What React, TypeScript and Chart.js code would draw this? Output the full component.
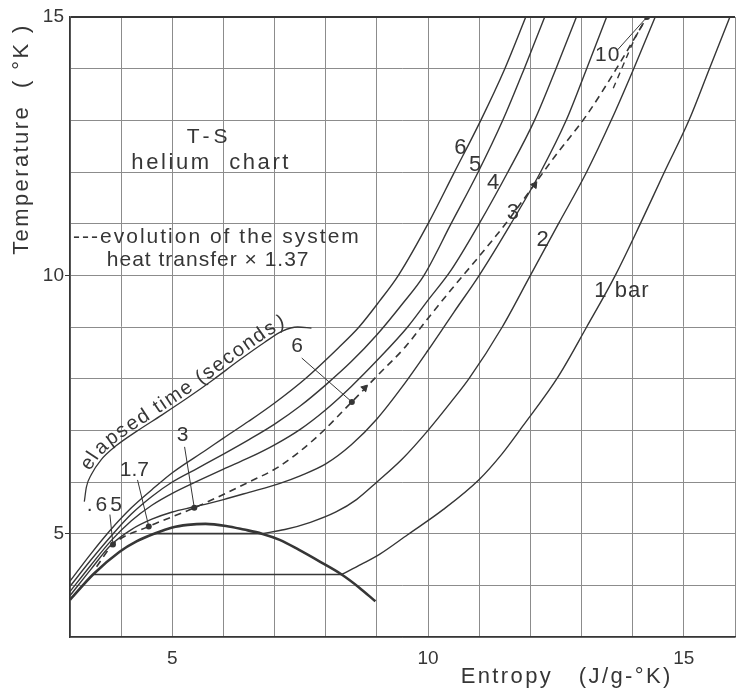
import { useEffect, useRef } from "react";
import { Chart, registerables } from "chart.js";

Chart.register(...registerables);

// ---------------- data (entropy S in J/g-K, temperature T in K) ----------------
const entropyTickLabels = [5, 10, 15];
const temperatureTickLabels = [5, 10, 15];

// saturation dome
const domeS = [3.0, 3.45, 3.97, 4.3, 4.65, 5.0, 5.3, 5.65, 6.05, 6.4, 6.75, 7.1, 7.47, 7.9, 8.31, 8.65, 8.97];
const domeT = [3.72, 4.21, 4.65, 4.85, 5.0, 5.12, 5.17, 5.19, 5.15, 5.08, 5.0, 4.88, 4.69, 4.45, 4.21, 3.96, 3.69];

// 1 bar: boiling plateau + vapour branch
const boil1S = [3.45, 8.31];
const boil1T = [4.21, 4.21];
const vap1S = [8.31, 8.7, 9.05, 9.6, 10.3, 11.0, 11.45, 11.85, 12.55, 13.1, 13.66, 14.15, 14.62, 15.1, 15.5, 15.9];
const vap1T = [4.21, 4.41, 4.6, 4.98, 5.47, 6.05, 6.55, 7.08, 8.05, 9.0, 10.0, 11.0, 12.0, 13.0, 14.0, 15.0];

// 2 bar: boiling plateau + vapour branch
const boil2S = [4.65, 6.75];
const boil2T = [5.0, 5.0];
const vap2S = [6.75, 7.2, 7.7, 8.2, 8.6, 9.0, 9.5, 10.0, 10.45, 10.8, 11.45, 12.0, 12.55, 13.1, 13.58, 14.02, 14.44];
const vap2T = [5.0, 5.08, 5.22, 5.42, 5.66, 6.0, 6.45, 7.0, 7.55, 8.0, 9.0, 10.0, 11.0, 12.0, 13.0, 14.0, 15.0];

// supercritical isobars
const bar3S = [3.0, 3.4, 3.8, 4.2, 4.6, 5.0, 5.43, 6.0, 6.5, 7.09, 7.5, 8.0, 8.5, 9.0, 9.5, 10.0, 10.5, 11.0, 11.62, 12.2, 12.7, 13.1, 13.49];
const bar3T = [3.8, 4.3, 4.78, 5.08, 5.28, 5.42, 5.52, 5.66, 5.8, 5.97, 6.12, 6.35, 6.72, 7.22, 7.85, 8.55, 9.28, 10.0, 11.0, 12.0, 13.0, 14.0, 15.0];

const bar4S = [3.0, 3.4, 3.8, 4.2, 4.6, 5.0, 5.5, 6.0, 6.5, 7.0, 7.5, 8.0, 8.5, 9.0, 9.6, 10.0, 10.45, 11.0, 11.56, 12.08, 12.5, 12.9];
const bar4T = [3.88, 4.38, 4.86, 5.25, 5.55, 5.78, 6.02, 6.25, 6.47, 6.72, 7.02, 7.4, 7.85, 8.35, 9.0, 9.52, 10.1, 11.0, 12.0, 13.0, 14.0, 15.0];

const bar5S = [3.0, 3.4, 3.8, 4.2, 4.6, 5.0, 5.5, 6.0, 6.5, 7.0, 7.5, 8.0, 8.5, 9.0, 9.5, 9.92, 10.45, 10.98, 11.46, 11.88, 12.28];
const bar5T = [3.98, 4.48, 4.95, 5.38, 5.72, 6.0, 6.27, 6.54, 6.82, 7.12, 7.47, 7.88, 8.33, 8.85, 9.45, 10.0, 11.0, 12.0, 13.0, 14.0, 15.0];

const bar6S = [3.0, 3.4, 3.8, 4.2, 4.6, 5.0, 5.66, 6.0, 6.5, 7.0, 7.6, 8.25, 8.65, 9.05, 9.42, 10.0, 10.49, 11.03, 11.5, 11.91];
const bar6T = [4.08, 4.6, 5.08, 5.5, 5.85, 6.18, 6.62, 6.85, 7.18, 7.53, 8.0, 8.6, 9.0, 9.5, 10.0, 11.0, 11.95, 13.0, 14.0, 15.0];

// evolution of the system (dashed)
const evolS = [3.52, 3.84, 4.54, 5.43, 6.5, 7.09, 7.8, 8.51, 9.03, 9.56, 10.0, 10.45, 11.0, 11.5, 12.0, 12.47, 13.1, 13.7, 14.28];
const evolT = [4.36, 4.79, 5.14, 5.5, 6.0, 6.3, 6.85, 7.55, 8.08, 8.62, 9.17, 9.72, 10.37, 10.98, 11.65, 12.29, 13.1, 14.03, 15.0];
const evol2S = [13.62, 13.85, 14.05, 14.28];
const evol2T = [13.62, 14.15, 14.6, 15.0];

// arrowheads on the evolution line
const arrowS = [8.76, 12.08];
const arrowT = [7.82, 11.75];

// elapsed time marks
const timeLabels = [".65", "1.7", "3", "6", "10"];
const timeS = [3.84, 4.54, 5.43, 8.51, 14.28];
const timeT = [4.79, 5.14, 5.5, 7.55, 15.0];

// elapsed-time guide curve
const arcS = [3.28, 3.32, 3.42, 3.6, 3.9, 4.3, 4.8, 5.3, 5.8, 6.3, 6.8, 7.15, 7.45, 7.72];
const arcT = [5.62, 5.9, 6.15, 6.42, 6.7, 6.98, 7.3, 7.63, 7.98, 8.35, 8.7, 8.92, 9.0, 8.98];

// isobar labels
const pressureLabels = ["6", "5", "4", "3", "2", "1 bar"];

// ---------------- styling / placement ----------------
const INK = "#363636";
const GRID = "#8c8c8c";
const FONT = '"Liberation Sans", Arial, sans-serif';

const pressureLabelAt = [
  [10.63, 12.47], [10.92, 12.14], [11.27, 11.79], [11.66, 11.21], [12.24, 10.69], [13.25, 9.7],
];
const timeLabelAt = [
  [3.7, 5.56, 3], [4.26, 6.22, 0], [5.2, 6.91, 0], [7.44, 8.62, 0], [13.51, 14.26, 1],
];
// pointer lines: from label to mark
const pointerFrom = [
  [3.78, 5.37], [4.32, 6.04], [5.24, 6.68], [7.53, 8.4], [13.7, 14.36],
];

const pts = (xs: number[], ys: number[]) => xs.map((x, i) => ({ x, y: ys[i] }));

const annotationPlugin = {
  id: "heliumText",
  afterDatasetsDraw(chart: any) {
    const { ctx, chartArea } = chart;
    const xs = chart.scales.x;
    const ys = chart.scales.y;
    const px = (v: number) => xs.getPixelForValue(v);
    const py = (v: number) => ys.getPixelForValue(v);
    ctx.save();
    ctx.fillStyle = INK;
    ctx.textBaseline = "middle";

    const put = (text: string, x: number, y: number, size: number, ls: number, align: CanvasTextAlign = "center") => {
      ctx.font = `${size}px ${FONT}`;
      (ctx as any).letterSpacing = `${ls}px`;
      ctx.textAlign = align;
      ctx.fillText(text, x, y);
    };

    pressureLabels.forEach((t, i) => {
      const [s, T] = pressureLabelAt[i];
      put(t, px(s), py(T), 22, i === 5 ? 1 : 0, i === 5 ? "left" : "center");
    });
    timeLabels.forEach((t, i) => {
      const [s, T, ls] = timeLabelAt[i];
      put(t, px(s), py(T), 21, ls);
    });

    put("T-S", px(5.72), py(12.68), 21, 4);
    put("helium  chart", px(5.76), py(12.18), 22, 2.6);
    put("---evolution of the system", px(3.06), py(10.74), 21, 2, "left");
    put("heat transfer \u00d7 1.37", px(3.72), py(10.3), 21, 1, "left");

    put("Entropy   (J/g-\u00b0K)", px(12.71), chartArea.bottom + 40, 22, 2.4);
    ctx.save();
    ctx.translate(chartArea.left - 48, chartArea.top + 122);
    ctx.rotate(-Math.PI / 2);
    put("Temperature  ( \u00b0K )", 0, 0, 22, 2.4);
    ctx.restore();

    // text along the elapsed-time curve
    const path = arcS.map((s, i) => [px(s), py(arcT[i])]);
    const cum = [0];
    for (let i = 1; i < path.length; i++) {
      cum.push(cum[i - 1] + Math.hypot(path[i][0] - path[i - 1][0], path[i][1] - path[i - 1][1]));
    }
    const at = (d: number) => {
      let i = 1;
      while (i < path.length - 1 && cum[i] < d) i++;
      const t = (d - cum[i - 1]) / (cum[i] - cum[i - 1]);
      const [x0, y0] = path[i - 1];
      const [x1, y1] = path[i];
      return { x: x0 + (x1 - x0) * t, y: y0 + (y1 - y0) * t, a: Math.atan2(y1 - y0, x1 - x0) };
    };
    ctx.font = `20px ${FONT}`;
    (ctx as any).letterSpacing = "0px";
    ctx.textAlign = "left";
    ctx.textBaseline = "alphabetic";
    let d = 30;
    const off = 3;
    for (const ch of "elapsed time (seconds)") {
      const w = ctx.measureText(ch).width;
      const p = at(d + w / 2);
      ctx.save();
      ctx.translate(p.x + Math.sin(p.a) * off, p.y - Math.cos(p.a) * off);
      ctx.rotate(p.a);
      ctx.fillText(ch, -w / 2, 0);
      ctx.restore();
      d += w + 1.7;
    }
    ctx.restore();
  },
};

// direction (degrees clockwise from "up") of the evolution line at a given entropy
const arrowRotation = (s: number) => {
  let i = 1;
  while (i < evolS.length - 1 && evolS[i] < s) i++;
  const dx = (evolS[i] - evolS[i - 1]) * 51.4;
  const dy = (evolT[i] - evolT[i - 1]) * 51.7;
  return (Math.atan2(dx, dy) * 180) / Math.PI;
};

export default function App() {
  const ref = useRef<HTMLCanvasElement>(null);

  useEffect(() => {
    const canvas = ref.current;
    if (!canvas) return;

    const curve = (label: string, xs: number[], ys: number[], extra: any = {}) => ({
      label,
      data: pts(xs, ys),
      showLine: true,
      borderColor: INK,
      backgroundColor: INK,
      borderWidth: 1.4,
      pointRadius: 0,
      pointHoverRadius: 0,
      cubicInterpolationMode: "monotone",
      fill: false,
      ...extra,
    });

    const datasets: any[] = [
      curve("saturation", domeS, domeT, { borderWidth: 2.6 }),
      curve("1 bar plateau", boil1S, boil1T, { borderWidth: 1.6 }),
      curve("1 bar", vap1S, vap1T),
      curve("2 bar plateau", boil2S, boil2T, { borderWidth: 1.6 }),
      curve("2 bar", vap2S, vap2T),
      curve("3 bar", bar3S, bar3T),
      curve("4 bar", bar4S, bar4T),
      curve("5 bar", bar5S, bar5T),
      curve("6 bar", bar6S, bar6T),
      curve("evolution", evolS, evolT, { borderDash: [7, 5], borderWidth: 1.6 }),
      curve("evolution 2", evol2S, evol2T, { borderDash: [6, 5], borderWidth: 1.4 }),
      curve("elapsed time", arcS, arcT, { borderWidth: 1.3 }),
    ];
    timeS.forEach((s, i) => {
      datasets.push(
        curve("pointer " + timeLabels[i], [pointerFrom[i][0], s], [pointerFrom[i][1], timeT[i]], {
          borderWidth: 1,
          cubicInterpolationMode: "default",
          tension: 0,
        })
      );
    });
    datasets.push({
      label: "time marks",
      data: pts(timeS, timeT),
      showLine: false,
      pointRadius: 3,
      pointBackgroundColor: INK,
      pointBorderColor: INK,
      pointBorderWidth: 0,
    });
    datasets.push({
      label: "arrows",
      data: pts(arrowS, arrowT),
      showLine: false,
      pointStyle: "triangle",
      pointRadius: 4,
      pointRotation: arrowS.map(arrowRotation),
      pointBackgroundColor: INK,
      pointBorderColor: INK,
      pointBorderWidth: 1,
    });

    const tickFont = { family: FONT, size: 19 };

    const chart = new Chart(canvas, {
      type: "scatter",
      data: { datasets },
      options: {
        animation: false,
        responsive: false,
        devicePixelRatio: 1,
        events: [],
        layout: { padding: { top: 17, right: 2, left: 0, bottom: 0 } },
        plugins: { legend: { display: false }, tooltip: { enabled: false }, title: { display: false } },
        scales: {
          x: {
            type: "linear",
            min: 3,
            max: 16,
            ticks: {
              stepSize: 1,
              autoSkip: false,
              maxRotation: 0,
              padding: 10,
              color: INK,
              font: tickFont,
              callback: (v: any) => (entropyTickLabels.includes(Number(v)) ? String(v) : ""),
            },
            grid: {
              color: GRID,
              lineWidth: 1,
              drawTicks: false,
            },
            border: { display: true, color: INK, width: 1.6 },
            afterFit: (s: any) => {
              s.height = 55;
              s.paddingLeft = 0;
              s.paddingRight = 0;
            },
          },
          y: {
            type: "linear",
            min: 3,
            max: 15,
            ticks: {
              stepSize: 1,
              autoSkip: false,
              padding: 1,
              color: INK,
              font: tickFont,
              callback: (v: any) => (temperatureTickLabels.includes(Number(v)) ? String(v) : ""),
            },
            grid: {
              color: (c: any) => (c.tick && c.tick.value === 15 ? INK : GRID),
              lineWidth: (c: any) => (c.tick && c.tick.value === 15 ? 2 : 1),
              drawTicks: true,
              tickLength: 5,
              tickColor: (c: any) =>
                c.tick && temperatureTickLabels.includes(c.tick.value) && c.tick.value !== 15 ? INK : "rgba(0,0,0,0)",
            },
            border: { display: true, color: INK, width: 1.6 },
            afterFit: (s: any) => {
              s.width = 70;
              s.paddingTop = 0;
              s.paddingBottom = 0;
            },
          },
        },
      } as any,
      plugins: [annotationPlugin],
    });

    return () => chart.destroy();
  }, []);

  return (
    <div style={{ position: "fixed", left: 0, top: 0, width: 740, height: 692, background: "#fff" }}>
      <canvas ref={ref} width={740} height={692} style={{ display: "block", width: 740, height: 692 }} />
    </div>
  );
}
